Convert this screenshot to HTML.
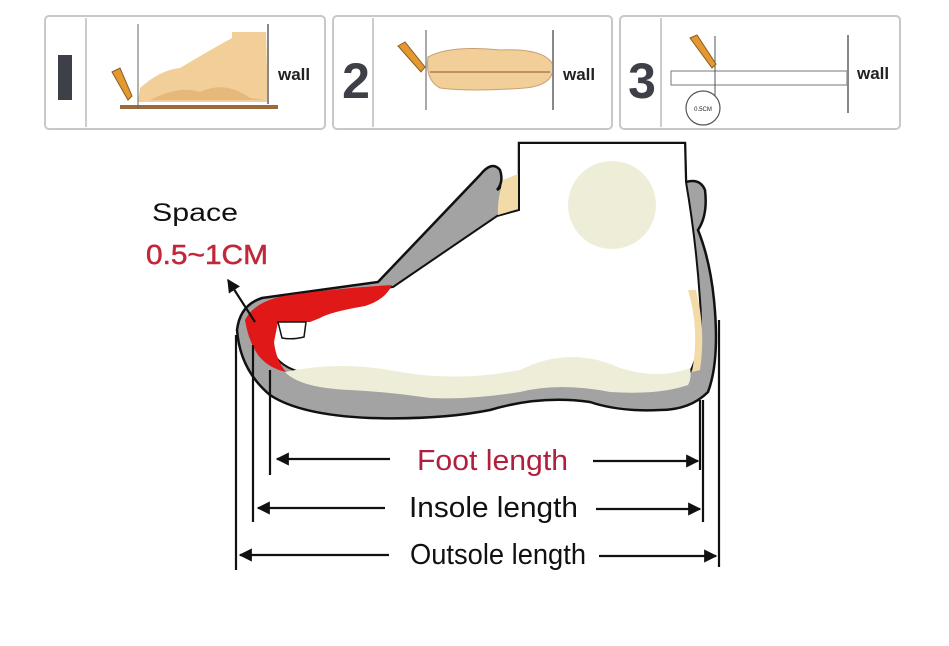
<!DOCTYPE html>
<html><head><meta charset="utf-8"><style>
html,body{margin:0;padding:0;background:#fff;}
svg{display:block;font-family:"Liberation Sans",sans-serif;}
</style></head><body>
<svg width="949" height="646" viewBox="0 0 949 646" xmlns="http://www.w3.org/2000/svg">
<defs>
<marker id="ah" viewBox="0 0 10 10" refX="9" refY="5" markerWidth="6" markerHeight="6" orient="auto-start-reverse"><path d="M0,0 L10,5 L0,10 z" fill="#111"/></marker>
</defs>
<!-- top panels -->
<g stroke="#c8c8c8" stroke-width="2" fill="#fff">
<rect x="45" y="16" width="280" height="113" rx="4"/>
<rect x="333" y="16" width="279" height="113" rx="4"/>
<rect x="620" y="16" width="280" height="113" rx="4"/>
</g>
<g stroke="#bbb" stroke-width="1.5">
<line x1="86" y1="18" x2="86" y2="127"/><line x1="373" y1="18" x2="373" y2="127"/><line x1="661" y1="18" x2="661" y2="127"/>
</g>
<!-- numbers -->
<rect x="58" y="55" width="14" height="45" fill="#3d4046"/>
<text x="356" y="98" font-size="50" font-weight="bold" fill="#3d4046" text-anchor="middle">2</text>
<text x="642" y="98" font-size="50" font-weight="bold" fill="#3d4046" text-anchor="middle">3</text>
<!-- panel1 -->
<path d="M138,102 L140,88 Q160,70 180,68 Q210,50 232,38 L232,32 L266,32 L268,102 Z" fill="#f2cf98"/>
<path d="M150,100 Q180,85 200,92 Q225,80 250,98 L265,100 Z" fill="#e6b87a"/>
<rect x="120" y="105" width="158" height="4" fill="#9a6a3a"/>
<line x1="138" y1="24" x2="138" y2="108" stroke="#666" stroke-width="1"/>
<line x1="268" y1="24" x2="268" y2="104" stroke="#888" stroke-width="2"/>
<path d="M112,72 L120,68 L132,96 L128,100 Z" fill="#e49830" stroke="#8a5a20" stroke-width="1"/>
<text x="278" y="80" font-size="17" font-weight="bold" fill="#222">wall</text>
<!-- panel2 -->
<path d="M428,57 Q450,45 500,50 Q545,48 553,65 Q555,85 525,88 Q470,92 440,88 Q425,80 428,57 Z" fill="#f2cf98" stroke="#c8a070" stroke-width="1"/>
<line x1="430" y1="72" x2="550" y2="72" stroke="#c09060" stroke-width="2"/>
<line x1="426" y1="30" x2="426" y2="110" stroke="#555" stroke-width="1"/>
<line x1="553" y1="30" x2="553" y2="110" stroke="#888" stroke-width="2"/>
<path d="M398,46 L405,42 L425,67 L421,72 Z" fill="#e49830" stroke="#8a5a20" stroke-width="1"/>
<text x="563" y="80" font-size="17" font-weight="bold" fill="#222">wall</text>
<!-- panel3 -->
<rect x="671" y="71" width="176" height="14" fill="#fff" stroke="#777" stroke-width="1"/>
<line x1="715" y1="36" x2="715" y2="110" stroke="#555" stroke-width="1"/>
<line x1="848" y1="35" x2="848" y2="113" stroke="#888" stroke-width="2"/>
<path d="M690,38 L697,35 L716,64 L712,68 Z" fill="#e49830" stroke="#8a5a20" stroke-width="1"/>
<circle cx="703" cy="108" r="17" fill="#fff" stroke="#555" stroke-width="1.2"/>
<text x="703" y="111" font-size="6" text-anchor="middle" fill="#222">0.5CM</text>
<text x="857" y="79" font-size="17" font-weight="bold" fill="#222">wall</text>
<!-- shoe outer gray -->
<path d="M237,330 Q240,305 262,298 Q320,290 378,282 L480,175 Q492,160 500,170 Q504,182 497,190 L519,175 L519,143 L685,143 L686,182 Q700,178 705,190 Q708,215 698,230 Q710,260 714,300 Q720,360 708,392 Q690,410 660,410 Q620,412 590,402 Q540,395 490,410 Q440,420 370,418 Q300,415 270,395 Q240,370 237,330 Z" fill="#a3a3a3" stroke="#111" stroke-width="2.5"/>
<!-- foot white -->
<path d="M519,143 L685,143 L686,182 Q696,240 700,300 Q704,345 690,372 Q660,390 610,385 Q560,372 520,382 Q470,393 440,390 Q400,388 380,378 Q330,372 300,372 Q275,365 270,345 L268,320 Q285,302 330,295 Q375,290 393,287 L497,216 L519,210 Z" fill="#fff" stroke="#111" stroke-width="2"/>
<!-- cream collar -->
<path d="M503,180 L518,174 L518,209 L498,215 Q497,200 503,180 Z" fill="#f3dba8"/>
<!-- cream insole band -->
<path d="M285,372 Q340,360 400,372 Q460,382 520,370 Q570,345 620,368 Q660,380 690,368 Q692,378 688,385 Q660,395 610,392 Q560,382 520,392 Q470,400 430,398 Q390,392 350,390 Q300,388 285,372 Z" fill="#eeeed8"/>
<path d="M688,290 Q700,330 692,372 L700,370 Q706,330 696,290 Z" fill="#f3dba8"/>
<circle cx="612" cy="205" r="44" fill="#eeeed8"/>
<!-- red toe space -->
<path d="M245,320 Q255,300 290,295 Q340,288 392,285 Q385,300 365,306 Q330,312 320,318 L310,322 L278,322 L274,342 Q276,360 286,372 Q268,368 258,355 Q248,340 245,320 Z" fill="#e01818"/>
<path d="M278,322 L306,322 L304,337 Q292,340 282,338 Z" fill="#fff" stroke="#111" stroke-width="1.5"/>
<!-- measurement lines -->
<g stroke="#111" stroke-width="2.2">
<line x1="236" y1="335" x2="236" y2="570"/>
<line x1="253" y1="345" x2="253" y2="522"/>
<line x1="270" y1="370" x2="270" y2="475"/>
<line x1="700" y1="400" x2="700" y2="470"/>
<line x1="703" y1="400" x2="703" y2="522"/>
<line x1="719" y1="320" x2="719" y2="567"/>
<line x1="390" y1="459" x2="277" y2="459" marker-end="url(#ah)"/>
<line x1="593" y1="461" x2="698" y2="461" marker-end="url(#ah)"/>
<line x1="385" y1="508" x2="258" y2="508" marker-end="url(#ah)"/>
<line x1="596" y1="509" x2="700" y2="509" marker-end="url(#ah)"/>
<line x1="389" y1="555" x2="240" y2="555" marker-end="url(#ah)"/>
<line x1="599" y1="556" x2="716" y2="556" marker-end="url(#ah)"/>
<line x1="255" y1="322" x2="228" y2="280" marker-end="url(#ah)"/>
</g>
<text x="417" y="470" font-size="29" fill="#b0203e" textLength="151" lengthAdjust="spacingAndGlyphs">Foot length</text>
<text x="409" y="517" font-size="29" fill="#111" textLength="169" lengthAdjust="spacingAndGlyphs">Insole length</text>
<text x="410" y="564" font-size="29" fill="#111" textLength="176" lengthAdjust="spacingAndGlyphs">Outsole length</text>
<text x="152" y="221" font-size="25" fill="#111" textLength="86" lengthAdjust="spacingAndGlyphs">Space</text>
<text x="146" y="264" font-size="28" fill="#c0283a" textLength="122" lengthAdjust="spacingAndGlyphs" stroke="#c0283a" stroke-width="0.5">0.5~1CM</text>
</svg>
</body></html>
